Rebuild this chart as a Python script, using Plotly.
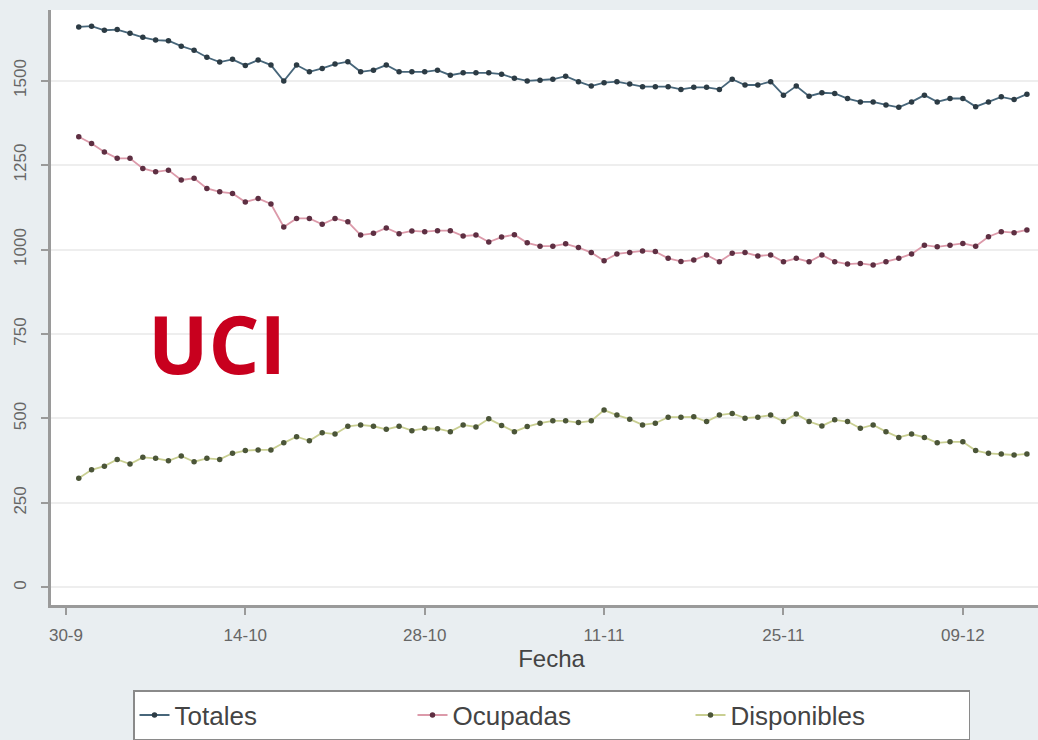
import plotly.graph_objects as go
import pandas as pd

# Dates (daily, 1 Oct - 14 Dec 2020)
fechas = pd.date_range("2020-10-01", periods=75, freq="D")

totales = [1659, 1661, 1649, 1651, 1640, 1628, 1620, 1618, 1602, 1590, 1569, 1555, 1563, 1545, 1561, 1546, 1499, 1546, 1526, 1536, 1549, 1556,
           1526, 1531, 1546, 1526, 1526, 1526, 1531, 1516, 1523, 1523, 1523, 1519, 1507, 1499, 1501, 1504, 1513, 1497, 1484, 1494, 1497, 1490, 1482, 1482, 1482, 1474,
           1480, 1480, 1474, 1504, 1487, 1487, 1497, 1457, 1484, 1454, 1464, 1462, 1447, 1437, 1437, 1428, 1421, 1437, 1457, 1437, 1447, 1447, 1423, 1437, 1452, 1444, 1460]

ocupadas = [1334, 1314, 1289, 1270, 1270, 1240, 1230, 1235, 1206, 1211, 1181, 1171, 1166, 1141, 1151, 1135, 1067, 1092, 1092, 1075, 1092, 1082,
            1043, 1048, 1064, 1047, 1055, 1053, 1056, 1056, 1040, 1043, 1022, 1037, 1044, 1020, 1010, 1010, 1017, 1006, 991, 967, 987, 991, 996, 994, 974, 965,
            969, 984, 964, 989, 991, 981, 984, 964, 974, 964, 984, 964, 957, 959, 954, 964, 974, 987, 1013, 1008, 1013, 1018, 1010, 1038, 1053, 1050, 1058]

disponibles = [323, 348, 359, 379, 365, 385, 382, 375, 389, 372, 382, 379, 397, 405, 407, 407, 428, 446, 434, 458, 454, 477,
               481, 477, 468, 477, 464, 471, 470, 461, 481, 475, 499, 479, 461, 476, 486, 493, 493, 488, 493, 525, 510, 498, 481, 486, 504, 504,
               505, 491, 510, 515, 501, 504, 510, 491, 513, 491, 478, 496, 491, 471, 481, 461, 444, 454, 444, 428, 431, 431, 405, 397, 395, 392, 395]

x_tickvals = ["2020-09-30", "2020-10-14", "2020-10-28", "2020-11-11", "2020-11-25", "2020-12-09"]
x_ticktext = ["30-9", "14-10", "28-10", "11-11", "25-11", "09-12"]
y_tickvals = [0, 250, 500, 750, 1000, 1250, 1500]

series = [
    ("Totales", totales, "#47667a", "#2c3b44"),
    ("Ocupadas", ocupadas, "#dc9aaa", "#5e2f42"),
    ("Disponibles", disponibles, "#c9cf92", "#4b5538"),
]

fig = go.Figure()
for name, vals, lc, mc in series:
    fig.add_trace(go.Scatter(
        x=fechas, y=vals, name=name, mode="lines+markers",
        line=dict(color=lc, width=1.8),
        marker=dict(color=mc, size=5.5, symbol="circle"),
    ))

fig.add_annotation(
    x="2020-10-11 18:00", y=726, xref="x", yref="y", text="<b>UCI</b>", showarrow=False,
    font=dict(family="Open Sans", size=80, color="#c8001e"),
)

fig.update_layout(
    width=1052, height=740,
    margin=dict(l=51, r=0, t=10, b=135, autoexpand=False),
    paper_bgcolor="#e9eef1",
    plot_bgcolor="#ffffff",
    font=dict(family="Liberation Sans, Arial", color="#555555"),
    showlegend=True,
    legend=dict(
        orientation="h", x=0.5, xanchor="center", y=-0.143, yanchor="top",
        bgcolor="#ffffff", bordercolor="#8a8a8a", borderwidth=1.5,
        font=dict(size=26, color="#444444"),
        entrywidth=233, itemwidth=30,
    ),
)

fig.update_xaxes(
    range=["2020-09-28 20:00", "2020-12-15 23:00"],
    tickvals=x_tickvals, ticktext=x_ticktext,
    ticks="outside", ticklen=7, tickwidth=1.5, tickcolor="#9a9a9a",
    showline=True, linecolor="#9a9a9a", linewidth=2.5,
    showgrid=False, zeroline=False, automargin=False,
    tickfont=dict(size=17, color="#666666"),
    ticklabelstandoff=6,
    title=dict(text="Fecha", font=dict(size=24, color="#444444"), standoff=6),
)
fig.update_yaxes(
    range=[-52, 1709],
    tickvals=y_tickvals,
    ticks="outside", ticklen=7, tickwidth=1.5, tickcolor="#9a9a9a",
    showline=True, linecolor="#9a9a9a", linewidth=2.5,
    showgrid=True, gridcolor="#eeeeee", gridwidth=1.5, zeroline=False, automargin=False,
    tickangle=-90,
    tickfont=dict(size=17, color="#666666"),
    ticklabelstandoff=8,
)

fig.write_html(
    "out.html",
    config={"displayModeBar": False},
    post_script=(
        "document.documentElement.style.margin='0';"
        "document.documentElement.style.padding='0';"
        "document.documentElement.style.overflow='hidden';"
        "document.body.style.margin='0';"
        "document.body.style.padding='0';"
        "document.body.style.overflow='hidden';"
        "document.body.style.background='#e9eef1';"
    ),
)
